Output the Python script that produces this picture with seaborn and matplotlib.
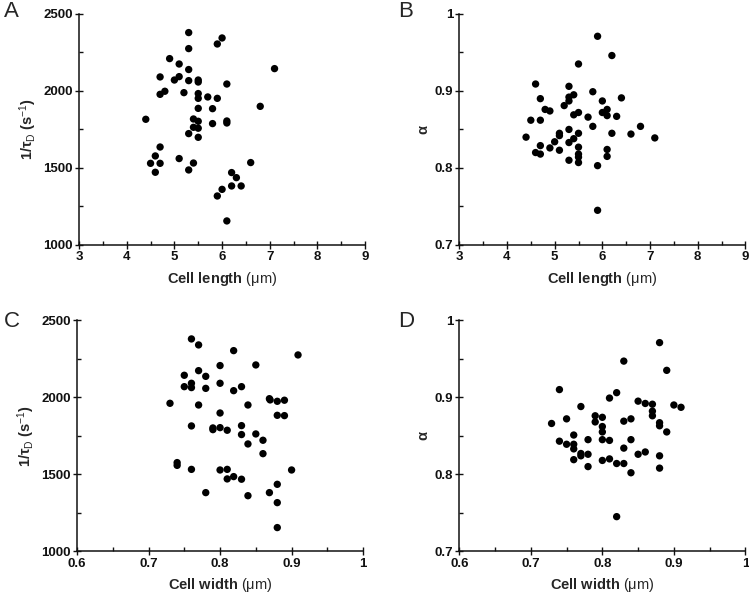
import matplotlib
matplotlib.use("Agg")
import matplotlib.pyplot as plt
import matplotlib.ticker as mticker
import seaborn as sns
import pandas as pd

# Panel A: cell length vs 1/tau_D
length_A = [5.3, 6.0, 5.9, 5.3, 4.9, 5.1, 7.1, 5.3, 4.7, 5.1, 5.0, 5.3, 5.5, 5.5, 6.1,
            4.8, 4.7, 5.2, 5.5, 5.5, 5.7, 5.9, 6.8, 5.5, 5.8, 4.4, 5.4, 5.5, 6.1, 6.1,
            5.8, 5.4, 5.5, 5.3, 5.5, 4.7, 4.6, 5.1, 4.5, 4.7, 5.4, 6.6, 4.6, 5.3, 6.2,
            6.3, 6.2, 6.4, 6.0, 5.9, 6.1]
rate_A = [2379, 2344, 2305, 2275, 2210, 2175, 2145, 2139, 2091, 2093, 2071, 2067, 2071, 2058, 2045,
          1998, 1978, 1989, 1983, 1952, 1961, 1952, 1900, 1887, 1885, 1816, 1818, 1803, 1805, 1792,
          1788, 1764, 1758, 1723, 1699, 1636, 1578, 1561, 1530, 1530, 1532, 1535, 1472, 1487, 1470,
          1437, 1383, 1383, 1361, 1318, 1156]

# Panel B: cell length vs alpha
length_B = [5.9, 6.2, 5.5, 4.6, 5.3, 5.8, 4.7, 6.4, 5.4, 5.3, 5.3, 6.0, 4.8, 4.9, 5.2,
            6.1, 6.0, 5.5, 5.4, 6.1, 5.7, 6.3, 4.5, 4.7, 5.8, 6.8, 5.3, 6.6, 6.2, 5.5,
            5.1, 5.1, 4.4, 7.1, 5.4, 5.0, 5.3, 5.5, 4.7, 4.9, 5.1, 6.1, 4.6, 4.7, 5.5,
            5.5, 6.1, 5.3, 5.5, 5.9, 5.9]
alpha_B = [0.971, 0.946, 0.935, 0.909, 0.906, 0.899, 0.890, 0.891, 0.895, 0.892, 0.887, 0.887, 0.876, 0.874, 0.881,
           0.876, 0.872, 0.872, 0.869, 0.868, 0.866, 0.867, 0.862, 0.862, 0.854, 0.854, 0.850, 0.844, 0.845, 0.845,
           0.845, 0.842, 0.840, 0.839, 0.838, 0.834, 0.833, 0.827, 0.829, 0.826, 0.823, 0.824, 0.820, 0.818, 0.818,
           0.814, 0.815, 0.810, 0.807, 0.803, 0.745]

# Panel C: cell width vs 1/tau_D
width_C = [0.760, 0.770, 0.819, 0.909, 0.850, 0.800, 0.770, 0.750, 0.780, 0.760, 0.800, 0.750, 0.760,
           0.780, 0.830, 0.819, 0.869, 0.870, 0.880, 0.890, 0.730, 0.770, 0.839, 0.800, 0.880, 0.890,
           0.760, 0.830, 0.790, 0.790, 0.800, 0.810, 0.830, 0.850, 0.860, 0.839, 0.860, 0.740, 0.740,
           0.760, 0.800, 0.810, 0.900, 0.819, 0.810, 0.830, 0.880, 0.780, 0.869, 0.839, 0.880, 0.880]
rate_C = [2379, 2340, 2303, 2275, 2210, 2206, 2173, 2143, 2136, 2091, 2091, 2069, 2063,
          2058, 2069, 2043, 1991, 1983, 1974, 1981, 1961, 1950, 1950, 1898, 1883, 1881,
          1814, 1816, 1801, 1790, 1803, 1786, 1758, 1762, 1721, 1697, 1634, 1576, 1558,
          1532, 1528, 1532, 1528, 1485, 1470, 1468, 1435, 1381, 1381, 1361, 1316, 1154]

# Panel D: cell width vs alpha
width_D = [0.880, 0.830, 0.890, 0.740, 0.820, 0.810, 0.850, 0.860, 0.870, 0.900, 0.910, 0.770, 0.870,
           0.870, 0.790, 0.800, 0.750, 0.840, 0.790, 0.830, 0.729, 0.880, 0.880, 0.800, 0.890, 0.800,
           0.760, 0.740, 0.780, 0.800, 0.810, 0.840, 0.750, 0.760, 0.760, 0.830, 0.770, 0.770, 0.780,
           0.850, 0.860, 0.880, 0.760, 0.800, 0.810, 0.820, 0.830, 0.780, 0.880, 0.840, 0.820]
alpha_D = [0.971, 0.947, 0.935, 0.910, 0.906, 0.899, 0.895, 0.892, 0.891, 0.890, 0.887, 0.888, 0.882,
           0.876, 0.876, 0.874, 0.872, 0.872, 0.868, 0.869, 0.866, 0.867, 0.863, 0.862, 0.855, 0.855,
           0.851, 0.843, 0.845, 0.845, 0.844, 0.845, 0.839, 0.839, 0.833, 0.834, 0.827, 0.824, 0.826,
           0.826, 0.829, 0.824, 0.819, 0.818, 0.820, 0.814, 0.814, 0.810, 0.808, 0.802, 0.745]

panel_letters = ["A", "B", "C", "D"]
rate_label = r"1/τ$_\mathrm{D}$ (s$^{-1}$)"
alpha_label = "α"
length_label = r"Cell length $\mathrm{(\mu m)}$"
width_label = r"Cell width $\mathrm{(\mu m)}$"

sns.set_style("ticks")
plt.rcParams["font.family"] = ["Liberation Sans", "DejaVu Sans"]
plt.rcParams["mathtext.fontset"] = "custom"
plt.rcParams["mathtext.rm"] = "Liberation Sans"
plt.rcParams["mathtext.it"] = "Liberation Sans:italic"
plt.rcParams["mathtext.bf"] = "Liberation Sans:bold"

fig = plt.figure(figsize=(7.49, 5.96), dpi=100)
W, H = 0.382, 0.3876
positions = [[0.1055, 0.589, W, H], [0.6132, 0.589, W, H],
             [0.1028, 0.075, W, H], [0.6132, 0.075, W, H]]
letter_pos = [(4, 1), (398, 1), (4, 311), (398, 311)]

panels = [
    (length_A, rate_A, (3, 9), (1000, 2500), [3, 4, 5, 6, 7, 8, 9], [1000, 1500, 2000, 2500], 0.5, 250, length_label, rate_label),
    (length_B, alpha_B, (3, 9), (0.7, 1.0), [3, 4, 5, 6, 7, 8, 9], [0.7, 0.8, 0.9, 1.0], 0.5, 0.05, length_label, alpha_label),
    (width_C, rate_C, (0.6, 1.0), (1000, 2500), [0.6, 0.7, 0.8, 0.9, 1.0], [1000, 1500, 2000, 2500], 0.05, 250, width_label, rate_label),
    (width_D, alpha_D, (0.6, 1.0), (0.7, 1.0), [0.6, 0.7, 0.8, 0.9, 1.0], [0.7, 0.8, 0.9, 1.0], 0.05, 0.05, width_label, alpha_label),
]

fmt = mticker.FuncFormatter(lambda v, p: f"{v:g}")

for pos, (xs, ys, xl, yl, xt, yt, xm, ym, xlab, ylab), letter, lp in zip(positions, panels, panel_letters, letter_pos):
    ax = fig.add_axes(pos)
    df = pd.DataFrame({"x": xs, "y": ys})
    sns.scatterplot(data=df, x="x", y="y", ax=ax, color="black", s=28, edgecolor="none", clip_on=False)
    ax.set_xlim(*xl)
    ax.set_ylim(*yl)
    ax.set_xticks(xt)
    ax.set_yticks(yt)
    ax.xaxis.set_major_formatter(fmt)
    ax.yaxis.set_major_formatter(fmt)
    ax.xaxis.set_minor_locator(mticker.MultipleLocator(xm))
    ax.yaxis.set_minor_locator(mticker.MultipleLocator(ym))
    for s in ["top", "right"]:
        ax.spines[s].set_visible(False)
    for s in ["left", "bottom"]:
        ax.spines[s].set_linewidth(1.1)
        ax.spines[s].set_color("#111111")
    ax.tick_params(which="major", direction="inout", length=6, width=1.0, labelsize=9.5, pad=1.5, colors="#111111")
    ax.tick_params(which="minor", direction="in", length=3, width=1.0, colors="#111111")
    for lab in ax.get_xticklabels() + ax.get_yticklabels():
        lab.set_fontweight("bold")
    ax.set_xlabel(xlab, fontsize=10.5, fontweight="bold", labelpad=5)
    ax.set_ylabel(ylab, fontsize=10.5, fontweight="bold", labelpad=3)
    fig.text(lp[0] / 749, 1 - lp[1] / 596, letter, fontsize=16, ha="left", va="top")

fig.savefig("out.png", dpi=100)
